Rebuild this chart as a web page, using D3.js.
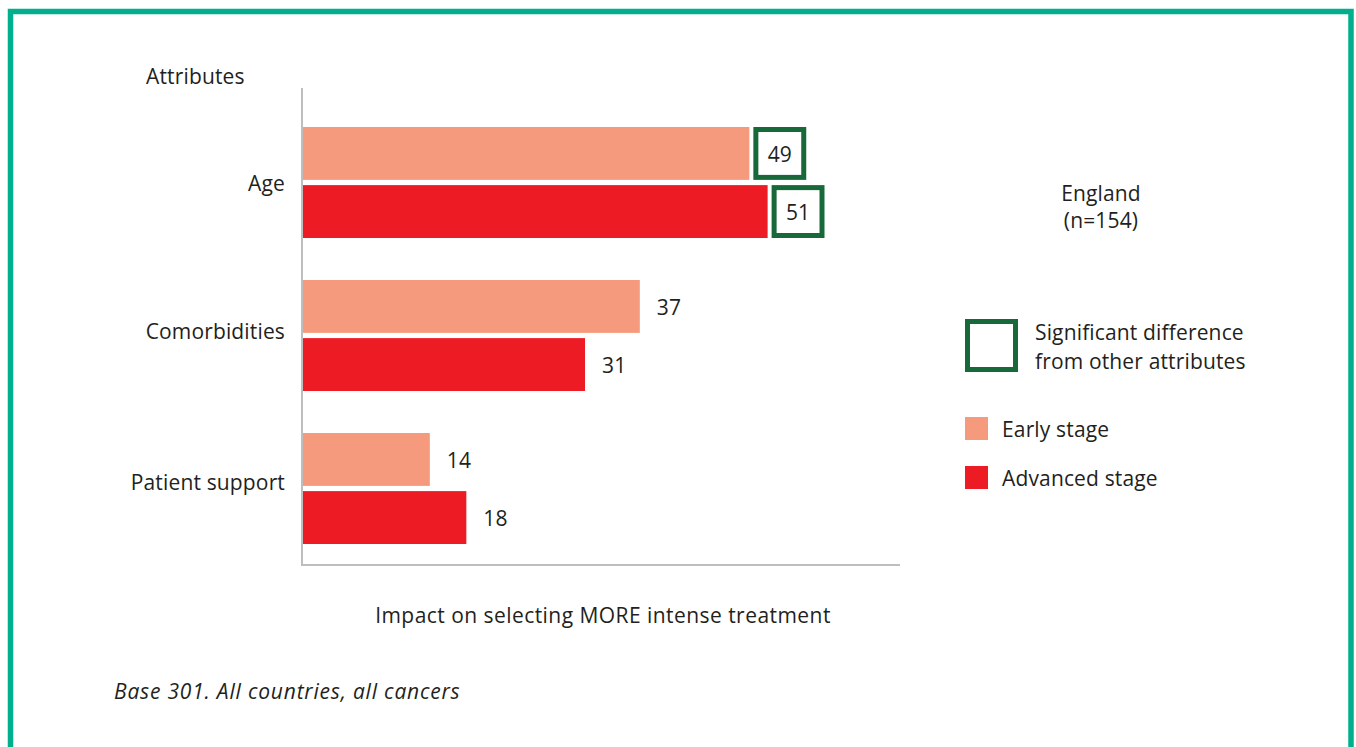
<!DOCTYPE html>
<html><head><meta charset="utf-8">
<script src="https://cdn.jsdelivr.net/npm/d3@7"></script>
<style>
html,body{margin:0;padding:0;background:#fff;}
svg text{font-family:"Open Sans",sans-serif;fill:#231f20;font-size:21px;letter-spacing:0.15px;}
</style></head>
<body>
<svg id="chart" width="1356" height="747"></svg>
<script>
const categories = ["Age", "Comorbidities", "Patient support"];
const seriesNames = ["Early stage", "Advanced stage"];
const earlyStage = [49, 37, 14];
const advancedStage = [51, 31, 18];
const earlySignificant = [true, false, false];
const advancedSignificant = [true, false, false];
const colors = ["#f59a7c", "#ed1c24"];
const boxColor = "#17693a";

const svg = d3.select("#chart");
const W = 1356, H = 747;

// outer frame
svg.append("path")
  .attr("d", `M10.5,${H+10} L10.5,11.5 L1351,11.5 L1351,${H+10}`)
  .attr("fill", "none").attr("stroke", "#00b08c").attr("stroke-width", 5.5);

const x = d3.scaleLinear().domain([0, 65.5]).range([302, 900]);
const y = d3.scaleBand().domain(categories).range([106, 565]).paddingInner(0).paddingOuter(0);
const sub = d3.scaleBand().domain([0, 1]).range([21, 132]).paddingInner(0.09);

const data = categories.map((c, i) => ({
  cat: c,
  vals: [
    {s: 0, v: earlyStage[i], sig: earlySignificant[i]},
    {s: 1, v: advancedStage[i], sig: advancedSignificant[i]}
  ]
}));

const g = svg.append("g");
const groups = g.selectAll("g.grp").data(data).join("g")
  .attr("transform", d => `translate(0,${y(d.cat)})`);

groups.selectAll("rect.bar").data(d => d.vals).join("rect")
  .attr("x", x(0)).attr("y", d => sub(d.s))
  .attr("width", d => x(d.v) - x(0)).attr("height", sub.bandwidth())
  .attr("fill", d => colors[d.s]);

// significance boxes
groups.selectAll("rect.sig").data(d => d.vals.filter(v => v.sig)).join("rect")
  .attr("x", d => x(d.v) + 4 + 2.5).attr("y", d => sub(d.s) + 2.5)
  .attr("width", sub.bandwidth() - 5).attr("height", sub.bandwidth() - 5)
  .attr("fill", "#fff").attr("stroke", boxColor).attr("stroke-width", 5);

groups.selectAll("text.val").data(d => d.vals).join("text")
  .attr("x", d => d.sig ? x(d.v) + 4 + sub.bandwidth() / 2 : x(d.v) + 17)
  .attr("y", d => sub(d.s) + sub.bandwidth() / 2 + 1)
  .attr("dy", "0.35em")
  .attr("text-anchor", d => d.sig ? "middle" : "start")
  .text(d => d.v);

// category labels
groups.append("text")
  .attr("x", 285).attr("y", (d, i) => [78, 73, 71][i])
  .attr("dy", "0.35em").attr("text-anchor", "end")
  .text(d => d.cat);

// axes lines
g.append("line").attr("x1", 302).attr("x2", 302).attr("y1", 88).attr("y2", 566)
  .attr("stroke", "#bcbec0").attr("stroke-width", 2);
g.append("line").attr("x1", 301).attr("x2", 900).attr("y1", 565).attr("y2", 565)
  .attr("stroke", "#bcbec0").attr("stroke-width", 2);

svg.append("text").attr("x", 146).attr("y", 77).attr("dy", "0.35em")
  .text("Attributes");
svg.append("text").attr("x", 603).attr("y", 616).attr("dy", "0.35em")
  .attr("text-anchor", "middle").style("letter-spacing", "0.45px")
  .text("Impact on selecting MORE intense treatment");
svg.append("text").attr("x", 114).attr("y", 692).attr("dy", "0.35em")
  .attr("font-style", "italic").style("letter-spacing", "0.8px")
  .text("Base 301. All countries, all cancers");

// right side
svg.append("text").attr("x", 1101).attr("y", 194).attr("dy", "0.35em")
  .attr("text-anchor", "middle").text("England");
svg.append("text").attr("x", 1101).attr("y", 221).attr("dy", "0.35em")
  .attr("text-anchor", "middle").text("(n=154)");

const lg = svg.append("g");
lg.append("rect").attr("x", 967.5).attr("y", 321.5).attr("width", 48).attr("height", 48)
  .attr("fill", "#fff").attr("stroke", boxColor).attr("stroke-width", 5);
lg.append("text").attr("x", 1035).attr("y", 333).attr("dy", "0.35em")
  .text("Significant difference");
lg.append("text").attr("x", 1035).attr("y", 362).attr("dy", "0.35em")
  .text("from other attributes");
seriesNames.forEach((n, i) => {
  const yy = 417 + i * 49;
  lg.append("rect").attr("x", 965).attr("y", yy).attr("width", 23).attr("height", 23)
    .attr("fill", colors[i]);
  lg.append("text").attr("x", 1002).attr("y", yy + 13).attr("dy", "0.35em")
    .text(n);
});
</script>
</body></html>
